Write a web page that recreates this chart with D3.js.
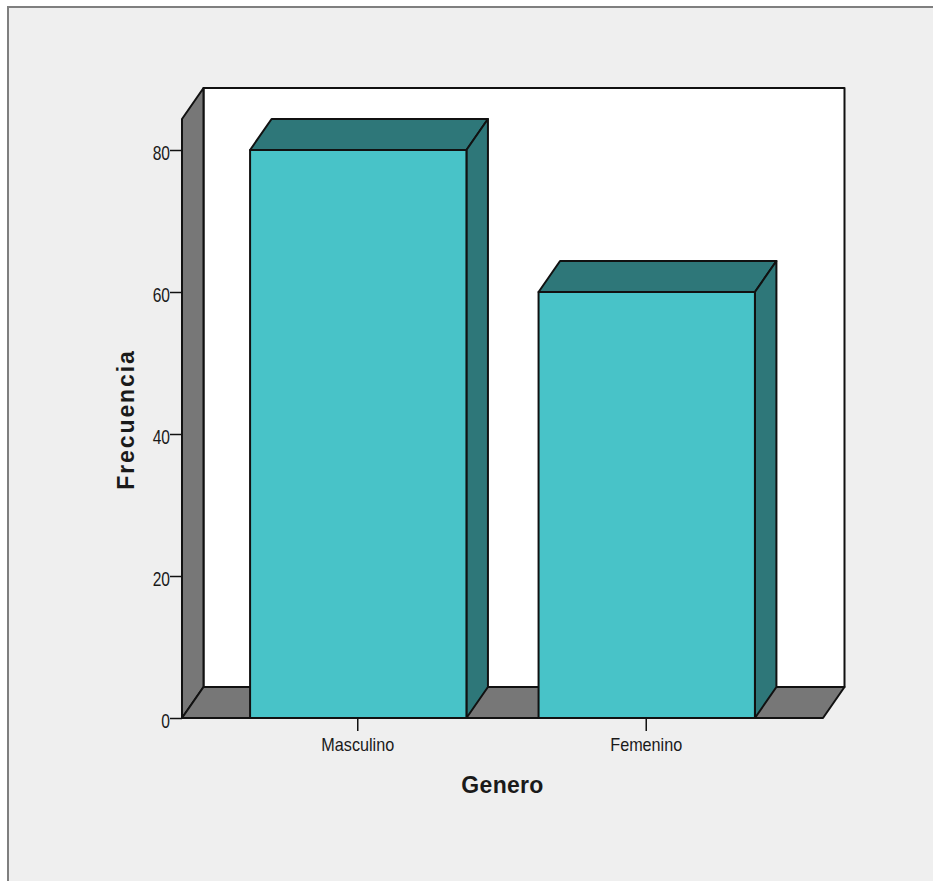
<!DOCTYPE html>
<html>
<head>
<meta charset="utf-8">
<script src="https://cdn.jsdelivr.net/npm/d3@7/dist/d3.min.js"></script>
<style>
  html, body { margin: 0; padding: 0; background: #ffffff; }
  svg { display: block; }
  text { font-family: "Liberation Sans", Arial, sans-serif; fill: #1a1a1a; }
</style>
</head>
<body>
<svg id="chart" width="933" height="881"></svg>
<script>
// Frequency of respondents by gender
const categories = ["Masculino", "Femenino"];
const frequencies = [80, 60];
const yTicks = [0, 20, 40, 60, 80];
const xTitle = "Genero";
const yTitle = "Frecuencia";

const width = 933, height = 881;
const front = { left: 182, right: 823, bottom: 718, top: 119 };
const depth = { dx: 21.5, dy: -31 };
const ink = "#111";
const colors = { panel: "#efefef", frame: "#7f7f7f", wall: "#777777", back: "#ffffff",
                 barFront: "#48c3c8", barDark: "#2e7779" };

const svg = d3.select("#chart");

const y = d3.scaleLinear().domain([0, 80]).range([front.bottom, 150]);
const x = d3.scaleBand().domain(categories)
  .range([front.left, front.right])
  .paddingInner(0.25).paddingOuter(0.236);

const poly = (pts, fill, g = svg) => g.append("path")
  .attr("d", d3.line()(pts) + "Z")
  .attr("fill", fill).attr("stroke", ink).attr("stroke-width", 2)
  .attr("stroke-linejoin", "round");

// Outer panel with its window-style border on the top and left
svg.append("rect").attr("x", 8).attr("y", 7).attr("width", width).attr("height", height)
  .attr("fill", colors.panel).attr("stroke", colors.frame).attr("stroke-width", 2);

// Back wall, side wall and floor of the 3D box
const fl = front.left, fr = front.right, fb = front.bottom, ft = front.top;
const { dx, dy } = depth;
poly([[fl + dx, ft + dy], [fr + dx, ft + dy], [fr + dx, fb + dy], [fl + dx, fb + dy]], colors.back);
poly([[fl, ft], [fl + dx, ft + dy], [fl + dx, fb + dy], [fl, fb]], colors.wall);
poly([[fl, fb], [fl + dx, fb + dy], [fr + dx, fb + dy], [fr, fb]], colors.wall);

// Extruded bars: top and side faces first, then the front face
const bars = svg.append("g").selectAll("g")
  .data(categories.map((c, i) => ({ c, v: frequencies[i] })))
  .join("g");
bars.each(function (d) {
  const g = d3.select(this);
  const x0 = x(d.c), x1 = x0 + x.bandwidth(), yv = y(d.v), y0 = y(0);
  poly([[x0, yv], [x0 + dx, yv + dy], [x1 + dx, yv + dy], [x1, yv]], colors.barDark, g);
  poly([[x1, yv], [x1 + dx, yv + dy], [x1 + dx, y0 + dy], [x1, y0]], colors.barDark, g);
  poly([[x0, yv], [x1, yv], [x1, y0], [x0, y0]], colors.barFront, g);
});

// Condensed text: horizontal squeeze around the anchor point
const label = (g, px, py, str, size, squeeze, weight) => g.append("text")
  .attr("transform", `translate(${px},${py}) scale(${squeeze},1)`)
  .attr("text-anchor", "middle").attr("font-size", size)
  .attr("font-weight", weight || "normal").text(str);

// Value axis
const yAxis = d3.axisLeft(y).tickValues(yTicks).tickSize(12).tickSizeOuter(0).tickFormat(() => "");
const yG = svg.append("g").attr("transform", `translate(${fl},0)`).call(yAxis);
yG.select(".domain").remove();
yG.selectAll(".tick line").attr("stroke", ink).attr("stroke-width", 1.5);
yTicks.forEach(t => {
  svg.append("text")
    .attr("transform", `translate(${fl - 12},${y(t) + 10}) scale(0.78,1)`)
    .attr("text-anchor", "end").attr("font-size", 20).text(String(t));
});

// Category axis
const xAxis = d3.axisBottom(x).tickSize(13).tickSizeOuter(0).tickFormat(() => "");
const xG = svg.append("g").attr("transform", `translate(-0.5,${fb})`).call(xAxis);
xG.select(".domain").remove();
xG.selectAll(".tick line").attr("stroke", ink).attr("stroke-width", 1.5);
categories.forEach(c => label(svg, x(c) + x.bandwidth() / 2 - 0.5, 751, c, 18, 0.9));

// Axis titles
label(svg, 502.5, 793, xTitle, 23, 1, "bold").attr("letter-spacing", "0.3");
svg.append("text")
  .attr("transform", "translate(134,419.5) rotate(-90)")
  .attr("text-anchor", "middle").attr("font-size", 23).attr("font-weight", "bold")
  .attr("letter-spacing", "1.9").text(yTitle);
</script>
</body>
</html>
